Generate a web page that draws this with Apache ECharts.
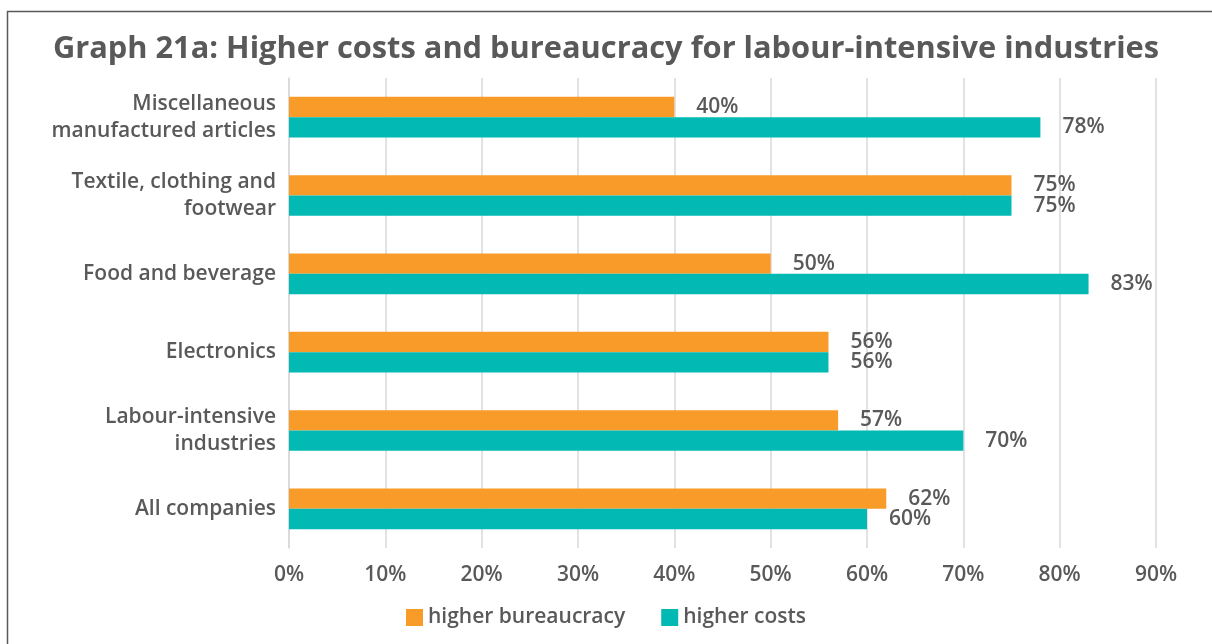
<!DOCTYPE html>
<html><head><meta charset="utf-8">
<script src="https://cdn.jsdelivr.net/npm/echarts@6/dist/echarts.min.js"></script>
<style>html,body{margin:0;padding:0;background:#fff}#c{width:1212px;height:644px}</style>
</head><body><div id="c"></div>
<script>
const categories = ["Miscellaneous\nmanufactured articles", "Textile, clothing and\nfootwear", "Food and beverage", "Electronics", "Labour-intensive\nindustries", "All companies"];
const bureaucracy = [40, 75, 50, 56, 57, 62];
const costs = [78, 75, 83, 56, 70, 60];
const seriesNames = ["higher bureaucracy", "higher costs"];
const titleText = "Graph 21a: Higher costs and bureaucracy for labour-intensive industries";

const txt = '#595959';
const font = '"Open Sans", sans-serif';
const chart = echarts.init(document.getElementById('c'));
const lbl = {show: true, position: 'right', distance: 22, formatter: p => p.value + '%', color: txt, fontFamily: font, fontSize: 21, fontWeight: 600};
chart.setOption({
  animation: false,
  textStyle: {fontFamily: font},
  graphic: [{type: 'rect', shape: {x: 7.5, y: 11.5, width: 1400, height: 800}, style: {fill: 'none', stroke: '#595959', lineWidth: 1.5}, z: -1}],
  title: {text: titleText, left: 'center', top: 29, textStyle: {color: txt, fontFamily: font, fontSize: 30.8, fontWeight: 'bold'}},
  legend: {bottom: 11, left: 'center', itemWidth: 17, itemHeight: 17, itemGap: 36, icon: 'rect',
    textStyle: {color: txt, fontFamily: font, fontSize: 21, fontWeight: 600}, data: seriesNames},
  grid: {left: 289, right: 56, top: 78, bottom: 96},
  xAxis: {type: 'value', min: 0, max: 90, interval: 10,
    axisLabel: {formatter: '{value}%', color: txt, fontFamily: font, fontSize: 21, fontWeight: 600, margin: 17},
    splitLine: {lineStyle: {color: '#D9D9D9', width: 1.5}}, axisLine: {show: false}, axisTick: {show: false}},
  yAxis: {type: 'category', inverse: true, data: categories,
    axisLabel: {color: txt, fontFamily: font, fontSize: 21, fontWeight: 600, lineHeight: 27, margin: 13},
    axisLine: {show: true, lineStyle: {color: '#D9D9D9', width: 1.5}}, axisTick: {show: false}},
  series: [
    {name: seriesNames[0], type: 'bar', data: bureaucracy, itemStyle: {color: '#F89B29'}, barGap: '0%', barCategoryGap: '48%', label: lbl},
    {name: seriesNames[1], type: 'bar', data: costs, itemStyle: {color: '#02B9B3'}, barGap: '0%', barCategoryGap: '48%', label: lbl}
  ]
});
</script></body></html>
